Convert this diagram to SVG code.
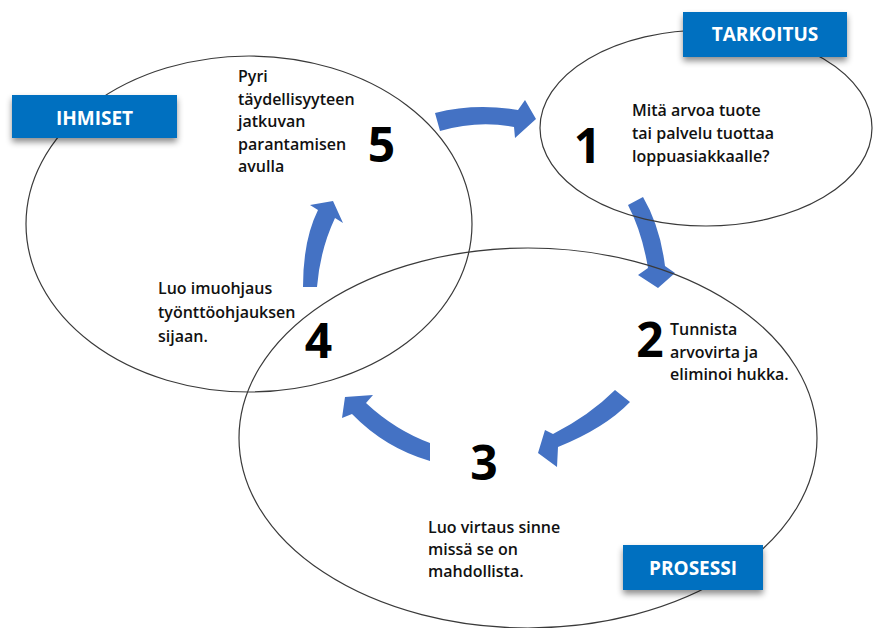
<svg xmlns="http://www.w3.org/2000/svg" width="875" height="628" viewBox="0 0 875 628">
<defs>
<filter id="sh" x="-10%" y="-20%" width="120%" height="160%">
<feDropShadow dx="0" dy="4" stdDeviation="3" flood-color="#000" flood-opacity="0.45"/>
</filter>
<style>
.ring{fill:none;stroke:#3a3a3a;stroke-width:1.2}
.arrow{fill:#4472C4}
.box{fill:#0070C0;filter:url(#sh)}
.boxt{font-family:"Open Sans","Liberation Sans",sans-serif;font-weight:700;font-size:19px;fill:#fff;text-anchor:middle}
.txt{font-family:"Open Sans","Liberation Sans",sans-serif;font-weight:600;font-size:16px;fill:#111}
.num{font-family:"Open Sans","Liberation Sans",sans-serif;font-weight:700;font-size:48px;fill:#000;text-anchor:middle}
</style>
</defs>
<rect width="875" height="628" fill="#fff"/>
<g id="connectors">
<path class="arrow" d="M435,113 Q475,103 518,110 L525,100 L536,119 L515,138 L514,127 Q478,120 440,131 Z"/>
<path class="arrow" d="M628,205 L643,197 Q660,226 665,266 L675,273 L658,288 L638,275 L648,268 Q642,232 628,205 Z"/>
<path class="arrow" d="M615,390 Q590,415 553,434 L545,430 L538,453 L557,467 L558,447 Q605,428 630,402 Z"/>
<path class="arrow" d="M430,443 Q395,430 366,403 L373,395 L345,397 L342,418 L352,414 Q385,448 430,461 Z"/>
<path class="arrow" d="M303,287 Q303,240 318,210 L310,205 L333,201 L343,223 L335,218 Q320,250 317,287 Z"/>
</g>
<g id="ihmiset">
<ellipse class="ring" cx="249" cy="224" rx="223" ry="168"/>
<rect class="box" x="12" y="95" width="165" height="43"/>
<text class="boxt" x="94.5" y="125">IHMISET</text>
</g>
<g id="tarkoitus">
<ellipse class="ring" cx="706" cy="128" rx="166" ry="98"/>
<rect class="box" x="683" y="12" width="164" height="45"/>
<text class="boxt" x="765" y="41">TARKOITUS</text>
</g>
<g id="prosessi">
<ellipse class="ring" cx="528" cy="438" rx="289" ry="190"/>
<rect class="box" x="623" y="545" width="140" height="45"/>
<text class="boxt" x="693" y="575">PROSESSI</text>
</g>
<g id="step1">
<text class="num" x="587.5" y="163">1</text>
<text class="txt" x="632"><tspan x="632" y="116">Mitä arvoa tuote</tspan><tspan x="632" y="139">tai palvelu tuottaa</tspan><tspan x="632" y="162">loppuasiakkaalle?</tspan></text>
</g>
<g id="step2">
<text class="num" x="650" y="357">2</text>
<text class="txt"><tspan x="670" y="335">Tunnista</tspan><tspan x="670" y="358">arvovirta ja</tspan><tspan x="670" y="380">eliminoi hukka.</tspan></text>
</g>
<g id="step3">
<text class="num" x="484" y="480">3</text>
<text class="txt"><tspan x="428" y="533">Luo virtaus sinne</tspan><tspan x="428" y="555">missä se on</tspan><tspan x="428" y="577">mahdollista.</tspan></text>
</g>
<g id="step4">
<text class="num" x="318.5" y="358">4</text>
<text class="txt"><tspan x="158" y="294">Luo imuohjaus</tspan><tspan x="158" y="318">työnttöohjauksen</tspan><tspan x="158" y="342">sijaan.</tspan></text>
</g>
<g id="step5">
<text class="num" x="381.5" y="162">5</text>
<text class="txt"><tspan x="238" y="82">Pyri</tspan><tspan x="238" y="104.5">täydellisyyteen</tspan><tspan x="238" y="127">jatkuvan</tspan><tspan x="238" y="149.5">parantamisen</tspan><tspan x="238" y="172">avulla</tspan></text>
</g>
</svg>
